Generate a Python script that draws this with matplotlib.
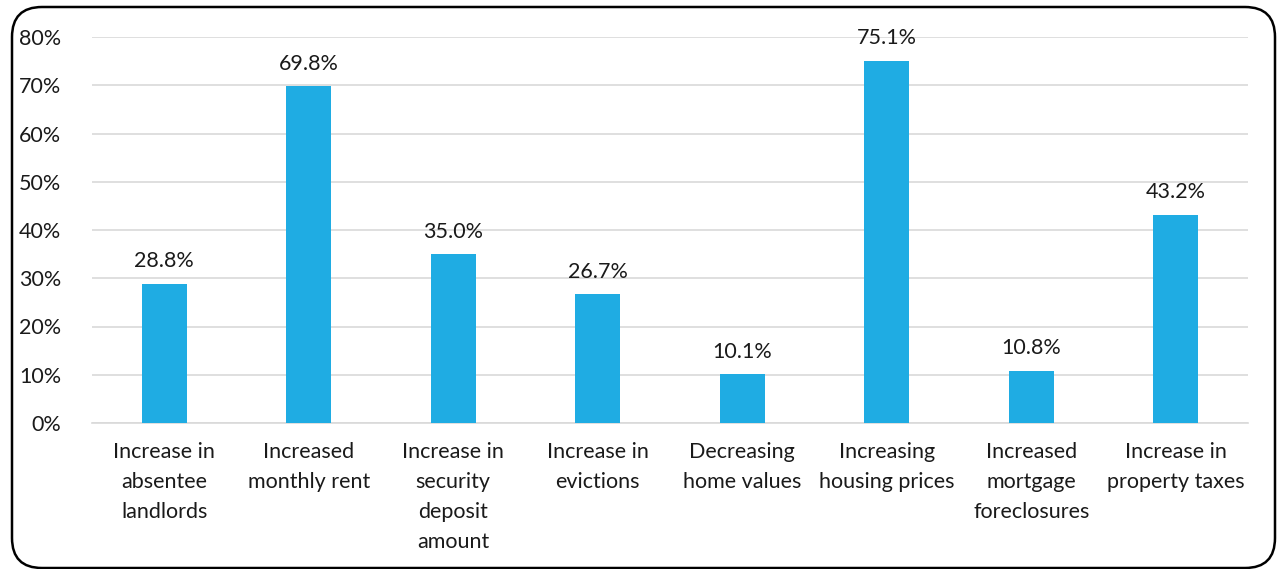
import matplotlib
matplotlib.use("Agg")
import matplotlib.pyplot as plt
from matplotlib.patches import FancyBboxPatch

categories = ["Increase in\nabsentee\nlandlords", "Increased\nmonthly rent",
              "Increase in\nsecurity\ndeposit\namount", "Increase in\nevictions",
              "Decreasing\nhome values", "Increasing\nhousing prices",
              "Increased\nmortgage\nforeclosures", "Increase in\nproperty taxes"]
values = [28.8, 69.8, 35.0, 26.7, 10.1, 75.1, 10.8, 43.2]
yticks = [0, 10, 20, 30, 40, 50, 60, 70, 80]

plt.rcParams['font.family'] = ['Lato', 'DejaVu Sans']

fig = plt.figure(figsize=(12.8, 5.69), dpi=100)
ax = fig.add_axes([92/1280, 1-423/569, 1156/1280, 386/569])

x = range(len(values))
ax.bar(x, values, 0.31, color="#1FACE3", zorder=3)
for i, v in enumerate(values):
    ax.text(i, v + 2.6, "%.1f%%" % v, ha="center", va="bottom", fontsize=15.5, color="#1a1a1a")

ax.set_xlim(-0.5, len(values) - 0.5)
ax.set_ylim(0, 80)
ax.set_yticks(yticks)
ax.set_yticklabels(["%d%%" % t for t in yticks], fontsize=15.5, color="#1a1a1a")
ax.set_xticks(list(x))
ax.set_xticklabels(categories, fontsize=15.5, color="#1a1a1a", linespacing=1.62, va="top")
ax.tick_params(axis="both", length=0)
ax.tick_params(axis="x", pad=14)
ax.tick_params(axis="y", pad=22)
ax.grid(axis="y", color="#D9D9D9", linewidth=1.2, zorder=0)
for s in ["top", "right", "left"]:
    ax.spines[s].set_visible(False)
ax.spines["bottom"].set_color("#D9D9D9")
ax.spines["bottom"].set_linewidth(1.2)

# rounded frame, drawn in pixel coordinates
ov = fig.add_axes([0, 0, 1, 1], zorder=-1)
ov.set_xlim(0, 1280)
ov.set_ylim(569, 0)
ov.axis("off")
frame = FancyBboxPatch((12, 7), 1263, 561, boxstyle="round,pad=0,rounding_size=30",
                       fill=False, edgecolor="black", linewidth=1.8)
ov.add_patch(frame)

fig.savefig("out.png", dpi=100)
